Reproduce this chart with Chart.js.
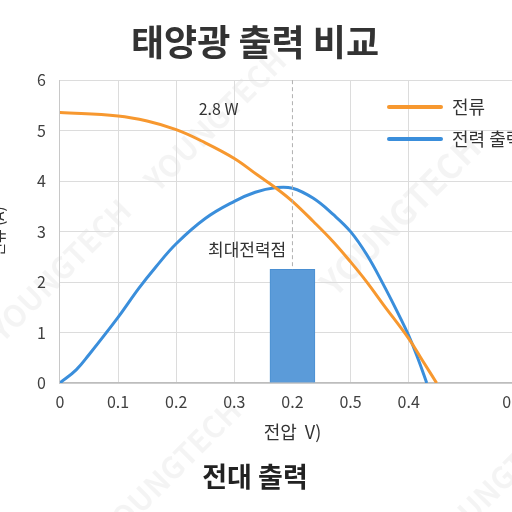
<!DOCTYPE html>
<html>
<head>
<meta charset="utf-8">
<script src="https://cdn.jsdelivr.net/npm/chart.js@4"></script>
<style>
  html, body { margin: 0; padding: 0; background: #fff; overflow: hidden; }
  #wrap { position: absolute; left: -15px; top: 0; width: 569px; height: 512px; }
</style>
</head>
<body>
<div id="wrap"><canvas id="solarChart"></canvas></div>
<script>
// 데이터
const currentV = [0, 0.1, 0.15, 0.2, 0.243, 0.3, 0.34, 0.372, 0.4, 0.436, 0.47, 0.5, 0.528, 0.556, 0.6, 0.625, 0.648];
const currentA = [5.36, 5.29, 5.19, 5.02, 4.8, 4.45, 4.12, 3.86, 3.6, 3.2, 2.8, 2.4, 2.0, 1.56, 0.88, 0.42, 0];
const powerV = [0, 0.028, 0.05, 0.1, 0.136, 0.165, 0.2, 0.25, 0.3, 0.336, 0.37, 0.4, 0.436, 0.47, 0.5, 0.528, 0.556, 0.58, 0.6, 0.616, 0.631];
const powerW = [0, 0.26, 0.56, 1.3, 1.88, 2.3, 2.76, 3.26, 3.6, 3.78, 3.87, 3.86, 3.66, 3.34, 3.0, 2.54, 1.96, 1.42, 0.94, 0.48, 0];
const mppV = [0.4];
const mppBar = [2.25];
const seriesNames = ['전류', '전력 출력'];
const xTickValues = [0, 0.1, 0.2, 0.3, 0.4, 0.5, 0.6, 0.78];
const xTickLabels = ['0', '0.1', '0.2', '0.3', '0.2', '0.5', '0.4', '0.6'];
const peakNote = { x: 0.273, y: 5.44, text: '2.8 W' };
const mppNote = { x: 0.322, y: 2.64, text: '최대전력점' };

const FONT = "'Noto Sans CJK KR', 'Noto Sans', sans-serif";
const ORANGE = '#f7982f';
const BLUE = '#3a8edb';

const toPts = (xs, ys) => xs.map((x, i) => ({ x: x, y: ys[i] }));

// 워터마크
const watermark = {
  id: 'watermark',
  beforeDraw(chart) {
    const c = chart.ctx;
    const marks = [[215, 120, 30], [400, 215, 34], [60, 270, 30], [170, 470, 30], [500, 480, 30]];
    c.save();
    c.fillStyle = 'rgba(0,0,0,0.045)';
    c.textAlign = 'center';
    c.textBaseline = 'middle';
    marks.forEach(([x, y, s]) => {
      c.save();
      c.translate(x + 15, y);
      c.rotate(-Math.PI / 4);
      c.font = 'bold ' + s + 'px ' + FONT;
      c.fillText('YOUNGTECH', 0, 0);
      c.restore();
    });
    c.restore();
  }
};

// 주석 + 범례
const notes = {
  id: 'notes',
  afterDatasetsDraw(chart) {
    const c = chart.ctx, xs = chart.scales.x, ys = chart.scales.y;
    c.save();
    // 점선
    c.strokeStyle = '#b0b0b0';
    c.lineWidth = 1;
    c.setLineDash([4, 3]);
    c.beginPath();
    c.moveTo(xs.getPixelForValue(mppV[0]), ys.getPixelForValue(6));
    c.lineTo(xs.getPixelForValue(mppV[0]), ys.getPixelForValue(mppBar[0]));
    c.stroke();
    c.setLineDash([]);

    c.fillStyle = '#333';
    c.textAlign = 'center';
    c.textBaseline = 'middle';
    c.font = '16px ' + FONT;
    c.fillText(peakNote.text, xs.getPixelForValue(peakNote.x), ys.getPixelForValue(peakNote.y));
    c.font = '17px ' + FONT;
    c.fillText(mppNote.text, xs.getPixelForValue(mppNote.x), ys.getPixelForValue(mppNote.y));

    // 범례
    const lx = 404, ly = 107, gap = 32;
    chart.data.datasets.filter(d => d.type === 'line').forEach((d, i) => {
      const y = ly + i * gap;
      c.strokeStyle = d.borderColor;
      c.lineWidth = 4;
      c.lineCap = 'round';
      c.beginPath();
      c.moveTo(lx, y);
      c.lineTo(lx + 52, y);
      c.stroke();
      c.fillStyle = '#333';
      c.textAlign = 'left';
      c.font = '18px ' + FONT;
      c.fillText(d.label, lx + 63, y);
    });
    c.restore();
  }
};

new Chart(document.getElementById('solarChart'), {
  data: {
    datasets: [
      { type: 'line', label: seriesNames[0], data: toPts(currentV, currentA), borderColor: ORANGE,
        borderWidth: 3, pointRadius: 0, tension: 0.4, order: 1 },
      { type: 'line', label: seriesNames[1], data: toPts(powerV, powerW), borderColor: BLUE,
        borderWidth: 3, pointRadius: 0, tension: 0.4, order: 2 },
      { type: 'bar', label: '최대전력점', data: toPts(mppV, mppBar), backgroundColor: '#5b9bd9',
        borderColor: '#4a8fd2', borderWidth: 1, barThickness: 45, order: 3 }
    ]
  },
  options: {
    responsive: true,
    maintainAspectRatio: false,
    animation: false,
    layout: { padding: { left: 0, right: 29, top: 0, bottom: 0 } },
    plugins: {
      legend: { display: false },
      tooltip: { enabled: false },
      title: {
        display: true, text: '태양광 출력 비교', color: '#333',
        font: { family: FONT, size: 36, weight: 'bold' }, padding: { top: 21, bottom: 16 }
      },
      subtitle: {
        display: true, position: 'bottom', text: '전대 출력', color: '#222',
        font: { family: FONT, size: 27, weight: 'bold' }, padding: { top: 14, bottom: 19 }
      }
    },
    scales: {
      x: {
        type: 'linear', min: 0, max: 0.8, offset: false,
        afterBuildTicks: axis => { axis.ticks = xTickValues.map(v => ({ value: v })); },
        ticks: {
          color: '#404040', font: { family: FONT, size: 16, lineHeight: 1.0 }, padding: 11,
          callback: (v, i) => xTickLabels[i]
        },
        grid: {
          drawTicks: false, offset: false,
          color: ctx => (ctx.index === 4 ? 'rgba(0,0,0,0)' : '#dcdcdc')
        },
        border: { color: '#bdbdbd', width: 1.5 },
        title: { display: true, text: '전압  V)', color: '#333', font: { family: FONT, size: 18 }, padding: { top: 0, bottom: 4 } }
      },
      y: {
        min: 0, max: 6,
        ticks: { stepSize: 1, color: '#404040', font: { family: FONT, size: 16 }, padding: 14 },
        grid: { drawTicks: false, color: '#dcdcdc' },
        border: { color: '#c8c8c8' },
        title: { display: true, text: '전류 (A)', color: '#333', font: { family: FONT, size: 15 }, padding: { top: 4, bottom: 16 } }
      }
    }
  },
  plugins: [watermark, notes]
});
</script>
</body>
</html>
